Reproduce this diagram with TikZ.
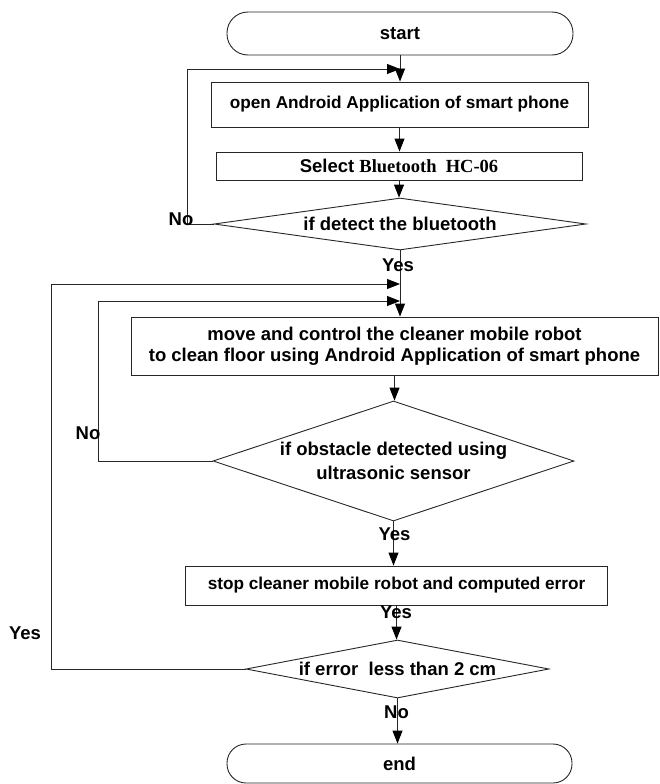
\documentclass[tikz,border=0pt]{standalone}
\usepackage{fontspec}
\setmainfont{Liberation Sans}
\newfontfamily\serifbf{Liberation Serif}
\usetikzlibrary{shapes.geometric,arrows.meta}
\begin{document}
\begin{tikzpicture}[x=1pt,y=-1pt,
  conn/.style={draw=black!85, line width=0.9pt},
  arr/.style={conn, -{Triangle[length=13pt,width=10pt,color=black]}},
  proc/.style={draw=black!85, line width=0.9pt, rectangle, inner sep=0pt,
    align=center, font=\bfseries\fontsize{18.5}{21}\selectfont},
  smalltext/.style={font=\bfseries\fontsize{17.2}{21}\selectfont},
  term/.style={proc, rounded corners=20pt},
  dec/.style={proc, diamond},
  lbl/.style={font=\bfseries\fontsize{18.5}{22}\selectfont, inner sep=0pt}]
\useasboundingbox (0,0) rectangle (660,784);

% process steps
\node[term, minimum width=346pt, minimum height=43pt, rounded corners=21pt] (start) at (400,33.5) {start};
\node[proc, smalltext, minimum width=377pt, minimum height=45pt] (b1) at (399.5,104.5) {open Android Application of smart phone};
\node[proc, minimum width=366pt, minimum height=28pt] (b2) at (399,166) {Select {\serifbf Bluetooth\ \ HC-06}};
\node[dec, shape aspect=7, minimum width=372pt, minimum height=52pt] (d1) at (400,224) {if detect the bluetooth};
\node[proc, minimum width=527pt, minimum height=58pt] (b3) at (394.5,346) {move and control the cleaner mobile robot\\to clean floor using Android Application of smart phone};
\node[dec, shape aspect=3, minimum width=361pt, minimum height=120pt, font=\bfseries\fontsize{18.5}{24}\selectfont] (d2) at (393.5,461) {if obstacle detected using\\ultrasonic sensor};
\node[proc, smalltext, minimum width=422pt, minimum height=39pt] (b4) at (396.5,585.5) {stop cleaner mobile robot and computed error};
\node[dec, shape aspect=6, minimum width=303pt, minimum height=58pt] (d3) at (397.5,669) {if error\ \ less than 2 cm};
\node[term, minimum width=345pt, minimum height=39pt, rounded corners=19pt] (end) at (399.5,763.5) {end};

% junctions where the loops rejoin the main line
\coordinate (j1) at (start.south |- 0,69);
\coordinate (j2) at (d1.south |- 0,284);
\coordinate (j3) at (d1.south |- 0,301);

% main flow
\draw[arr] (start.south) -- (start.south |- b1.north);
\draw[arr] (b1.south) -- (b1.south |- b2.north);
\draw[arr] (b2.south) -- (b2.south |- d1.north);
\draw[arr] (d1.south) -- (d1.south |- b3.north);
\draw[arr] (b3.south) -- (b3.south |- d2.north);
\draw[arr] (d2.south) -- (d2.south |- b4.north);
\draw[arr] (b4.south) -- (b4.south |- d3.north);
\draw[arr] (d3.south) -- (d3.south |- end.north);

% loops back
\draw[arr] (d1.west) -- ++(-26,0) |- (j1);
\draw[arr] (d2.west) -- ++(-114,0) |- (j3);
\draw[arr] (d3.west) -- ++(-194,0) |- (j2);

% branch labels
\node[lbl] (no1) at (181,219) {No};
\node[lbl] (yes1) at (398,265) {Yes};
\node[lbl] (no2) at (88,433) {No};
\node[lbl] (yes2) at (394.5,534) {Yes};
\node[lbl] (yes3) at (396,612) {Yes};
\node[lbl] (yes4) at (25,633) {Yes};
\node[lbl] (no3) at (396.5,712) {No};
\end{tikzpicture}
\end{document}
